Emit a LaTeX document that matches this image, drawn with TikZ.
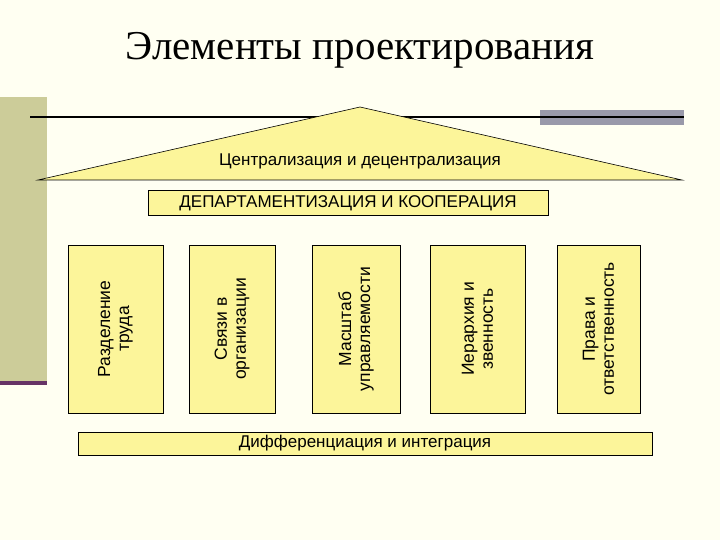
\documentclass[tikz,border=0pt]{standalone}
\usepackage{fontspec}
\setmainfont{Liberation Sans}
\newfontfamily\titlefont{Liberation Serif}
\definecolor{bg}{HTML}{FFFFF2}
\definecolor{olive}{HTML}{CCCC99}
\definecolor{boxfill}{HTML}{FCF59A}
\definecolor{grayb}{HTML}{9999AA}
\definecolor{purp}{HTML}{663366}
\begin{document}
\begin{tikzpicture}[x=1pt,y=-1pt,
  box/.style={draw=black,fill=boxfill,line width=0.6pt},
  col/.style={box,minimum width=#1,minimum height=168pt,inner sep=0pt},
  coltext/.style={rotate=90,align=center,font=\fontsize{17.5}{19}\selectfont}]
\fill[bg] (0,0) rectangle (720,540);
\useasboundingbox (0,0) rectangle (720,540);
\fill[olive] (0,97) rectangle (47,383);
\fill[purp] (0,381) rectangle (47,385);
\node[font=\titlefont\fontsize{41}{45}\selectfont] (title) at (360,50) {Элементы проектирования};
\fill[grayb] (540,110) rectangle (684,125);
\coordinate (l1) at (30,117); \coordinate (l2) at (684,117);
\draw[line width=1.2pt] (l1) -- (l2);
\coordinate (apex) at (360,107); \coordinate (bl) at (38,180); \coordinate (br) at (682,180);
\draw[box] (apex) -- (br) -- (bl) -- cycle;
\node[font=\fontsize{17}{19}\selectfont] (cent) at (360,161) {Централизация и децентрализация};
\node[box,minimum width=400pt,minimum height=25pt,inner sep=0pt,font=\fontsize{17}{19}\selectfont] (dep) at (348,203) {ДЕПАРТАМЕНТИЗАЦИЯ И КООПЕРАЦИЯ};
\node[col=95pt] (c1) at (115.5,329) {};
\node[coltext] (t1) at (c1) {Разделение\\труда};
\node[col=86pt] (c2) at (232,329) {};
\node[coltext] (t2) at (c2) {Связи в\\организации};
\node[col=88pt] (c3) at (356,329) {};
\node[coltext] (t3) at (c3) {Масштаб\\управляемости};
\node[col=95pt] (c4) at (477.5,329) {};
\node[coltext] (t4) at (c4) {Иерархия и\\звенность};
\node[col=83pt] (c5) at (598.5,329) {};
\node[coltext] (t5) at (c5) {Права и\\ответственность};
\node[box,minimum width=574pt,minimum height=23pt,inner sep=0pt,font=\fontsize{17}{19}\selectfont] (dif) at (365,443.5) {Дифференциация и интеграция};
\end{tikzpicture}
\end{document}
